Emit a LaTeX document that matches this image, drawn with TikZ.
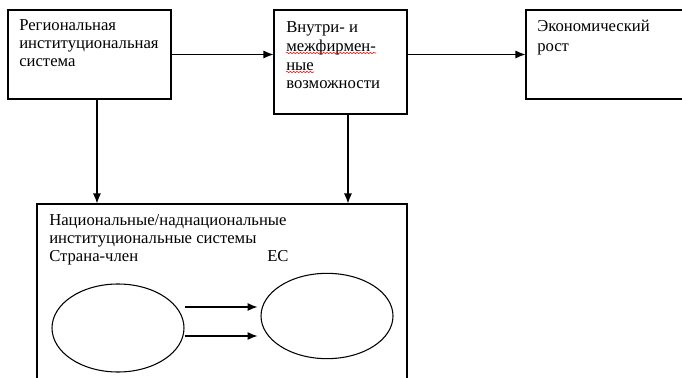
\documentclass[tikz,border=0pt]{standalone}
\usepackage{fontspec}
\setmainfont{Liberation Serif}
\usetikzlibrary{arrows.meta,fit,shapes.geometric,decorations.pathmorphing}

\tikzset{
	blok/.style={draw,line width=0.8pt,inner sep=0pt},
	tekst/.style={anchor=north west,align=left,inner sep=0pt,font=\fontsize{12.5}{13.5}\selectfont},
	oval/.style={draw,ellipse,line width=0.8pt,inner sep=0pt},
	strelka/.style={->,line width=0.8pt},
	oshibka/.style={red,line width=0.4pt,decorate,decoration={snake,amplitude=0.5pt,segment length=2.5pt}}
}

\begin{document}
\begin{tikzpicture}[x=0.75pt,y=-0.75pt,>={Latex[length=7.5pt,width=6pt]}]
		\useasboundingbox (0,0) rectangle (682,378);
		\clip (0,0) rectangle (682,378);
		
		% blocks
		\node[blok,fit={(8,10) (171,99)}] (reg) {};
		\node[blok,fit={(274,10) (407,114)}] (vnu) {};
		\node[blok,fit={(526,10) (690,99)}] (rost) {};
		\node[blok,fit={(37,204) (407,400)}] (nac) {};
		
		\node[tekst] (regT) at (19,19) {Региональная\\институциональная\\система};
		\node[tekst,font=\fontsize{12.5}{14.2}\selectfont] (vnuT) at (286,21) {Внутри- и\\межфирмен-\\ные\\возможности};
		\node[tekst,font=\fontsize{12.5}{14.8}\selectfont] (rostT) at (537,20) {Экономический\\рост};
		\node[tekst] (nacT) at (49,214) {Национальные/наднациональные\\институциональные системы\\Страна-член};
		\node[tekst] (es) at (267,250) {ЕС};
		
		% spelling marks
		\draw[oshibka] (286,53)--(376,53);
		\draw[oshibka] (286,72)--(314,72);
		
		\node[oval,minimum width=99pt,minimum height=66pt] (e1) at (118,328) {};
		\node[oval,minimum width=99pt,minimum height=64pt] (e2) at (327,316) {};
		
		\draw[strelka] (reg.east) -- (reg.east -| vnu.west);
		\draw[strelka] (vnu.east |- rost.west) -- (rost.west);
		\draw[strelka] ([xshift=5.6pt]reg.south) -- ([xshift=5.6pt]reg.south |- nac.north);
		\draw[strelka] ([xshift=5.6pt]vnu.south) -- ([xshift=5.6pt]vnu.south |- nac.north);
		\draw[strelka,shorten >=2.2pt] ([yshift=15.75pt]e1.east) -- ([yshift=15.75pt]e1.east -| e2.west);
		\draw[strelka,shorten >=2.2pt] ([yshift=-6pt]e1.east) -- ([yshift=-6pt]e1.east -| e2.west);
	\end{tikzpicture}
\end{document}
